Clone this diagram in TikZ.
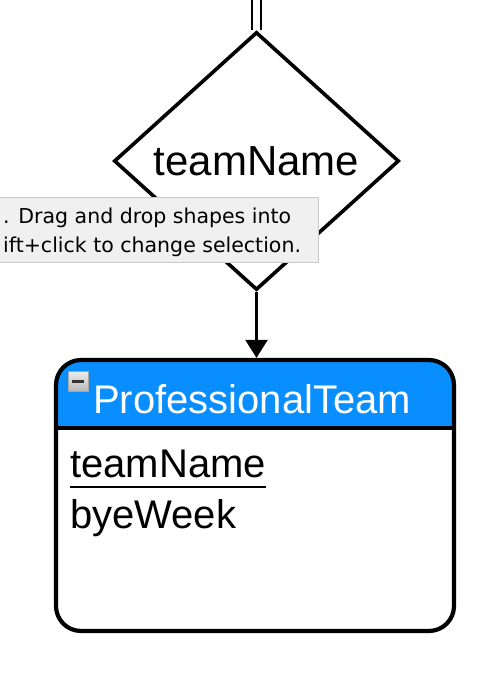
\documentclass[tikz,border=0pt]{standalone}
\usepackage{fontspec}
\setmainfont{Liberation Sans}
\newfontfamily\tipfont{DejaVu Sans}
\usetikzlibrary{shapes.geometric,arrows.meta}
\definecolor{hdrblue}{RGB}{8,142,255}
\definecolor{tipfill}{RGB}{240,240,240}
\definecolor{tipborder}{RGB}{200,200,200}
\tikzset{
  x=1pt,y=-1pt,
  relbox/.style={diamond,draw,line width=3.6,minimum width=285,minimum height=258,inner sep=0,font=\fontsize{42}{46}\selectfont},
  entbox/.style={draw,line width=4.2,rounded corners=25,minimum width=398,minimum height=271,inner sep=0,
    path picture={\fill[hdrblue,sharp corners] (path picture bounding box.north west) rectangle ([yshift=-70]path picture bounding box.north east);}},
  bigtext/.style={inner sep=0,font=\fontsize{40}{44}\selectfont},
  tipbox/.style={draw=tipborder,fill=tipfill,line width=0.8,minimum width=323,minimum height=65,inner sep=0,anchor=north west},
  tiptext/.style={inner sep=0,anchor=base west,font=\tipfont\fontsize{20.5}{24}\selectfont},
  conn/.style={line width=2.2,-{Triangle[length=18,width=22]}},
  dbl/.style={double,double distance=7,line width=1.8},
}
\begin{document}
\begin{tikzpicture}
\useasboundingbox (0,0) rectangle (498,676);
% relationship diamond
\node[relbox] (dia) at (256.5,161) {teamName};
\coordinate (topend) at (256.5,-5);
\draw[dbl] (topend) -- (dia.north);
% entity
\node[entbox] (ent) at (255,495.5) {};
\draw[line width=3.6] ([yshift=-70]ent.north west) -- ([yshift=-70]ent.north east);
\node[draw=gray!70,line width=0.6,minimum size=20,inner sep=0,top color=gray!15,bottom color=gray!55] (icon) at (78,381) {};
\node[fill=black!80,minimum width=12,minimum height=3,inner sep=0] (iconbar) at (icon.center) {};
\node[bigtext,anchor=base west,text=white] (title) at (93,413) {ProfessionalTeam};
\node[bigtext,anchor=base west] (attr1) at (70,477) {teamName};
\draw[line width=2.4] ([yshift=-10]attr1.base west) -- ([yshift=-10]attr1.base east);
\node[bigtext,anchor=base west] (attr2) at (70,528) {byeWeek};
% connector
\draw[conn] (dia.south) -- (dia.south |- ent.north);
% tooltip
\node[tipbox] (tip) at (-5,197) {};
\node[tiptext] (tip1) at (3,223) {. Drag and drop shapes into};
\node[tiptext] (tip2) at (3,252) {ift+click to change selection.};
\end{tikzpicture}
\end{document}
